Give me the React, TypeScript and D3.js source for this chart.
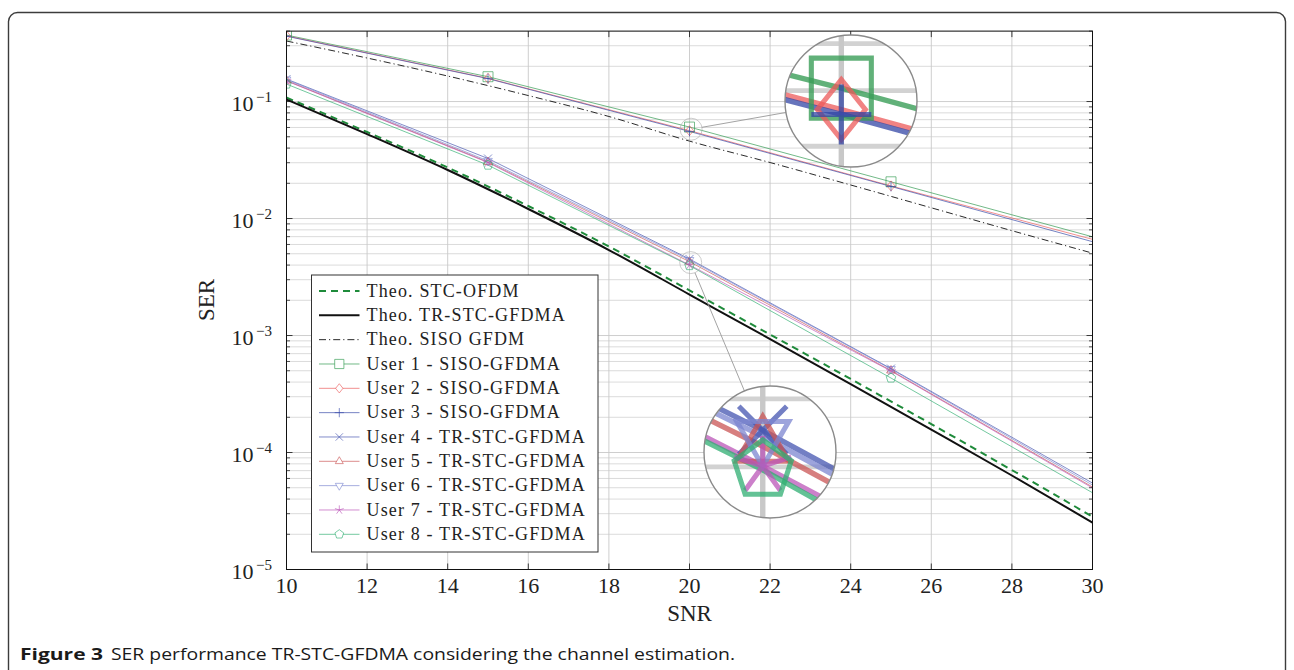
import React from "react";
import * as d3 from "d3";

// ---------- DATA ----------
const snrTheo = [10, 12, 14, 16, 18, 20, 22, 24, 26, 28, 30];
const theoSTCOFDM = [0.108, 0.0549, 0.0273, 0.0128, 0.00577, 0.00243, 1.02e-3, 4.25e-4, 1.75e-4, 7.08e-5, 2.83e-5];
const theoTRSTCGFDMA = [0.104, 0.0527, 0.026, 0.01206, 0.00538, 0.00224, 9.33e-4, 3.85e-4, 1.57e-4, 6.36e-5, 2.52e-5];
const theoSISOGFDM = [0.329, 0.2355, 0.1652, 0.1125, 0.0745, 0.0459, 0.0301, 0.01935, 0.01235, 0.00787, 0.00506];

const snrSim = [10, 15, 20, 25, 30];
const user1 = [0.37, 0.163, 0.0605, 0.0206, 0.00698];
const user2 = [0.364, 0.158, 0.0564, 0.019, 0.00664];
const user3 = [0.362, 0.157, 0.0555, 0.0188, 0.00634];
const user4 = [0.1556, 0.0326, 0.00451, 5.22e-4, 5.48e-5];
const user5 = [0.151, 0.0304, 0.00428, 5.02e-4, 5.07e-5];
const user6 = [0.154, 0.0311, 0.00442, 5.17e-4, 5.27e-5];
const user7 = [0.15, 0.0301, 0.00401, 4.97e-4, 4.97e-5];
const user8 = [0.141, 0.0286, 0.00396, 4.33e-4, 4.53e-5];
const markerSNR = [10, 15, 20, 25];

const xTicks = [10, 12, 14, 16, 18, 20, 22, 24, 26, 28, 30];
const yDecades = [-5, -4, -3, -2, -1];

const legendLabels = [
  "Theo. STC-OFDM",
  "Theo. TR-STC-GFDMA",
  "Theo. SISO GFDM",
  "User 1 - SISO-GFDMA",
  "User 2 - SISO-GFDMA",
  "User 3 - SISO-GFDMA",
  "User 4 - TR-STC-GFDMA",
  "User 5 - TR-STC-GFDMA",
  "User 6 - TR-STC-GFDMA",
  "User 7 - TR-STC-GFDMA",
  "User 8 - TR-STC-GFDMA",
];

// spy focus points (data coordinates)
const spyFocus = [
  { snr: 20.04, ser: 0.058 },
  { snr: 20.03, ser: 0.0042 },
];

// ---------- STYLES ----------
type Series = {
  xs: number[];
  ys: number[];
  color: string;
  width: number;
  dash?: string;
  marker?: string;
  opacity: number;
  smooth?: boolean;
};

const series: Series[] = [
  { xs: snrTheo, ys: theoSTCOFDM, color: "#1f8b3b", width: 2, dash: "7,5", opacity: 1, smooth: true },
  { xs: snrTheo, ys: theoTRSTCGFDMA, color: "#111111", width: 2, opacity: 1, smooth: true },
  { xs: snrTheo, ys: theoSISOGFDM, color: "#111111", width: 0.9, dash: "7,3,1.2,3", opacity: 1, smooth: true },
  { xs: snrSim, ys: user1, color: "#3a9e58", width: 0.9, marker: "square", opacity: 0.8 },
  { xs: snrSim, ys: user2, color: "#ec5a5a", width: 0.9, marker: "diamond", opacity: 0.75 },
  { xs: snrSim, ys: user3, color: "#3346a6", width: 0.9, marker: "plus", opacity: 0.75 },
  { xs: snrSim, ys: user4, color: "#4454b0", width: 0.9, marker: "x", opacity: 0.75 },
  { xs: snrSim, ys: user5, color: "#c95454", width: 0.9, marker: "triangle", opacity: 0.75 },
  { xs: snrSim, ys: user6, color: "#7c86d0", width: 0.9, marker: "triangleDown", opacity: 0.75 },
  { xs: snrSim, ys: user7, color: "#bb55b8", width: 0.9, marker: "star", opacity: 0.75 },
  { xs: snrSim, ys: user8, color: "#2fae72", width: 0.9, marker: "pentagon", opacity: 0.75 },
];

function markerPath(shape: string, r: number): string {
  switch (shape) {
    case "square":
      return `M${-r},${-r}H${r}V${r}H${-r}Z`;
    case "diamond":
      return `M0,${-r}L${r * 0.8},0L0,${r}L${-r * 0.8},0Z`;
    case "plus":
      return `M${-r},0H${r}M0,${-r}V${r}`;
    case "x": {
      const a = r * 0.8;
      return `M${-a},${-a}L${a},${a}M${-a},${a}L${a},${-a}`;
    }
    case "triangle":
      return `M0,${-r}L${r * 0.866},${r * 0.5}L${-r * 0.866},${r * 0.5}Z`;
    case "triangleDown":
      return `M0,${r}L${r * 0.866},${-r * 0.5}L${-r * 0.866},${-r * 0.5}Z`;
    case "star": {
      let d = "";
      for (let k = 0; k < 5; k++) {
        const a = -Math.PI / 2 + (k * 2 * Math.PI) / 5;
        d += `M0,0L${r * Math.cos(a)},${r * Math.sin(a)}`;
      }
      return d;
    }
    case "pentagon": {
      const pts = d3.range(5).map((k) => {
        const a = -Math.PI / 2 + (k * 2 * Math.PI) / 5;
        return `${r * Math.cos(a)},${r * Math.sin(a)}`;
      });
      return `M${pts.join("L")}Z`;
    }
  }
  return "";
}

export default function App() {
  const W = 1294;
  const H = 670;
  const x = d3.scaleLinear().domain([10, 30]).range([286.5, 1092.5]);
  const y = d3.scaleLog().domain([1e-5, 0.4]).range([569.5, 31.1]);
  const [x0, x1] = x.range();
  const yTop = y(0.4);
  const yBot = y(1e-5);

  const minorVals: number[] = [];
  yDecades.forEach((e) => {
    for (let m = 2; m <= 9; m++) {
      const v = m * Math.pow(10, e);
      if (v <= 0.4 + 1e-12) minorVals.push(v);
    }
  });
  const majorVals = yDecades.map((e) => Math.pow(10, e));

  const lineGen = (smooth?: boolean) =>
    d3
      .line<[number, number]>()
      .x((d) => x(d[0]))
      .y((d) => y(d[1]))
      .curve(smooth ? d3.curveMonotoneX : d3.curveLinear);

  const content = (pref: string) => (
    <g clipPath="url(#plotClip)">
      <rect x={x0} y={yTop} width={x1 - x0} height={yBot - yTop} fill="#ffffff" />
      {/* grid */}
      {minorVals.map((v, i) => (
        <line key={pref + "gm" + i} x1={x0} x2={x1} y1={y(v)} y2={y(v)} stroke="#d2d2d2" strokeWidth={0.8} />
      ))}
      {majorVals.map((v, i) => (
        <line key={pref + "gM" + i} x1={x0} x2={x1} y1={y(v)} y2={y(v)} stroke="#c8c8c8" strokeWidth={0.9} />
      ))}
      {xTicks.map((t, i) => (
        <line key={pref + "gx" + i} x1={x(t)} x2={x(t)} y1={yTop} y2={yBot} stroke="#c8c8c8" strokeWidth={0.9} />
      ))}
      {/* curves */}
      {series.map((s, i) => {
        const pts = s.xs.map((v, j) => [v, s.ys[j]] as [number, number]);
        return (
          <path
            key={pref + "s" + i}
            d={lineGen(s.smooth)(pts) || ""}
            fill="none"
            stroke={s.color}
            strokeWidth={s.width}
            strokeDasharray={s.dash}
            strokeOpacity={s.opacity}
          />
        );
      })}
      {/* markers */}
      {series.map((s, i) =>
        s.marker
          ? s.xs.map((v, j) =>
              markerSNR.includes(v) ? (
                <path
                  key={pref + "m" + i + "_" + j}
                  transform={`translate(${x(v)},${y(s.ys[j])})`}
                  d={markerPath(s.marker!, 5)}
                  fill="none"
                  stroke={s.color}
                  strokeWidth={0.85}
                  strokeOpacity={s.opacity}
                />
              ) : null
            )
          : null
      )}
    </g>
  );

  // spies
  const spyScale = 6;
  const smallR = 11;
  const bigR = 66;
  const bigCenters = [
    [851, 101],
    [770, 452],
  ];

  const serif = "'Liberation Serif', 'Times New Roman', serif";

  return (
    <svg
      width={W}
      height={H}
      viewBox={`0 0 ${W} ${H}`}
      style={{ position: "absolute", left: 0, top: 0, background: "#fff" }}
    >
      <defs>
        <clipPath id="plotClip" clipPathUnits="userSpaceOnUse">
          <rect x={x0} y={yTop} width={x1 - x0} height={yBot - yTop} />
        </clipPath>
        {bigCenters.map((c, i) => (
          <clipPath key={"sc" + i} id={"spyClip" + i} clipPathUnits="userSpaceOnUse">
            <circle cx={c[0]} cy={c[1]} r={bigR} />
          </clipPath>
        ))}
      </defs>
      <rect x={0} y={0} width={W} height={H} fill="#fff" />
      {/* outer frame */}
      <rect x={8.5} y={12.5} width={1277} height={700} rx={9} fill="none" stroke="#3c3c3c" strokeWidth={1.4} />

      {content("main")}

      {/* axis frame */}
      <rect x={x0} y={yTop} width={x1 - x0} height={yBot - yTop} fill="none" stroke="#111" strokeWidth={1} />
      {/* x ticks */}
      {xTicks.map((t, i) => (
        <g key={"xt" + i}>
          <line x1={x(t)} x2={x(t)} y1={yBot} y2={yBot - 6} stroke="#111" strokeWidth={0.8} />
          <line x1={x(t)} x2={x(t)} y1={yTop} y2={yTop + 6} stroke="#111" strokeWidth={0.8} />
          <text x={x(t)} y={593} textAnchor="middle" fontFamily={serif} fontSize={22} fill="#222">
            {t}
          </text>
        </g>
      ))}
      {/* y ticks */}
      {majorVals.map((v, i) => (
        <g key={"yt" + i}>
          <line x1={x0} x2={x0 + 6} y1={y(v)} y2={y(v)} stroke="#111" strokeWidth={0.8} />
          <line x1={x1} x2={x1 - 6} y1={y(v)} y2={y(v)} stroke="#111" strokeWidth={0.8} />
          <text x={253.5} y={y(v) + 9.5} textAnchor="end" fontFamily={serif} fontSize={22} fill="#222">
            10
          </text>
          <text x={256} y={y(v) + 0.5} textAnchor="start" fontFamily={serif} fontSize={15} fill="#222">
            {"\u2212" + -yDecades[i]}
          </text>
        </g>
      ))}
      {minorVals.map((v, i) => (
        <g key={"ym" + i}>
          <line x1={x0} x2={x0 + 3.5} y1={y(v)} y2={y(v)} stroke="#111" strokeWidth={0.7} />
          <line x1={x1} x2={x1 - 3.5} y1={y(v)} y2={y(v)} stroke="#111" strokeWidth={0.7} />
        </g>
      ))}
      {/* axis labels */}
      <text x={(x0 + x1) / 2} y={621} textAnchor="middle" fontFamily={serif} fontSize={23} fill="#222">
        SNR
      </text>
      <text
        transform={`translate(214,300) rotate(-90)`}
        textAnchor="middle"
        fontFamily={serif}
        fontSize={23}
        fill="#222"
      >
        SER
      </text>

      {/* legend */}
      <g>
        <rect x={311.5} y={275} width={286.5} height={277} fill="#fff" stroke="#333" strokeWidth={1} />
        {series.map((s, i) => {
          const cy = 291 + i * 24.33;
          return (
            <g key={"lg" + i}>
              <line
                x1={319}
                x2={359.5}
                y1={cy}
                y2={cy}
                stroke={s.color}
                strokeWidth={s.width}
                strokeDasharray={s.dash}
                strokeOpacity={s.opacity}
              />
              {s.marker ? (
                <path
                  transform={`translate(339.3,${cy})`}
                  d={markerPath(s.marker, 4.6)}
                  fill="#fff"
                  stroke={s.color}
                  strokeWidth={0.85}
                  strokeOpacity={s.opacity}
                />
              ) : null}
              <text x={366.5} y={cy + 5.8} fontFamily={serif} fontSize={18} letterSpacing={1.15} fill="#222">
                {legendLabels[i]}
              </text>
            </g>
          );
        })}
      </g>

      {/* spies */}
      {spyFocus.map((f, i) => {
        const sx = x(f.snr);
        const sy = y(f.ser);
        const [bx, by] = bigCenters[i];
        const dx = bx - sx;
        const dy = by - sy;
        const dist = Math.hypot(dx, dy);
        const ux = dx / dist;
        const uy = dy / dist;
        return (
          <g key={"spy" + i}>
            <circle cx={sx} cy={sy} r={smallR} fill="none" stroke="#aaa" strokeWidth={0.6} />
            <line
              x1={sx + ux * smallR}
              y1={sy + uy * smallR}
              x2={bx - ux * bigR}
              y2={by - uy * bigR}
              stroke="#999"
              strokeWidth={0.9}
            />
            <g clipPath={`url(#spyClip${i})`}>
              <circle cx={bx} cy={by} r={bigR} fill="#fff" />
              <g transform={`translate(${bx},${by}) scale(${spyScale}) translate(${-sx},${-sy})`}>
                {content("spy" + i)}
              </g>
            </g>
            <circle cx={bx} cy={by} r={bigR} fill="none" stroke="#8a8a8a" strokeWidth={1.4} />
          </g>
        );
      })}

      {/* caption */}
      <text
        x={20}
        y={660}
        fontFamily="'Open Sans', 'Noto Sans', sans-serif"
        fontWeight={700}
        fontSize={16.5}
        fill="#1a1a1a"
        textLength={83}
        lengthAdjust="spacingAndGlyphs"
      >
        Figure 3
      </text>
      <text
        x={111}
        y={660}
        fontFamily="'Open Sans', 'Noto Sans', sans-serif"
        fontSize={16.5}
        fill="#1a1a1a"
        textLength={624}
        lengthAdjust="spacingAndGlyphs"
      >
        SER performance TR-STC-GFDMA considering the channel estimation.
      </text>
    </svg>
  );
}
